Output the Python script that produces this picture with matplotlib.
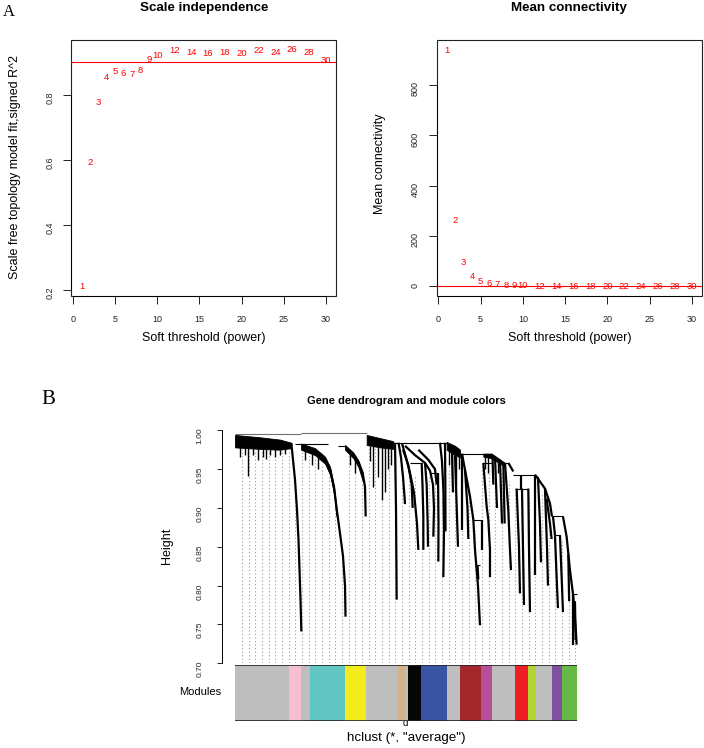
import numpy as np
import matplotlib
matplotlib.use("Agg")
import matplotlib.pyplot as plt
from matplotlib.patches import Rectangle

plt.rcParams['font.family'] = ['Liberation Sans', 'DejaVu Sans']

# --- soft threshold scan ---
powers = [1, 2, 3, 4, 5, 6, 7, 8, 9, 10, 12, 14, 16, 18, 20, 22, 24, 26, 28, 30]
sft_r2 = [0.21, 0.592, 0.776, 0.854, 0.873, 0.866, 0.863, 0.876, 0.909, 0.922,
          0.936, 0.930, 0.927, 0.930, 0.927, 0.938, 0.930, 0.941, 0.930, 0.906]
mean_k = [936, 261, 94, 38, 18, 10, 6, 3, 2.2, 1.6,
          0.9, 0.6, 0.4, 0.3, 0.2, 0.15, 0.11, 0.08, 0.06, 0.05]
r2_cut = 0.90

# --- modules in dendrogram order (gene counts) ---
module_names = ['grey', 'pink', 'grey', 'turquoise', 'yellow', 'grey', 'tan', 'grey',
                'black', 'blue', 'grey', 'brown', 'magenta', 'grey', 'red',
                'greenyellow', 'grey', 'purple', 'green']
module_sizes = [324, 72, 54, 210, 124, 192, 44, 20, 76, 156, 78, 126, 68, 136, 80,
                44, 96, 60, 90]
module_hex = {'grey': '#bebebe', 'pink': '#f6bfcf', 'turquoise': '#62c7c3',
              'yellow': '#f3eb1b', 'tan': '#d3b38c', 'black': '#050707',
              'blue': '#3a54a4', 'brown': '#a3282b', 'magenta': '#b7509b',
              'red': '#ed1f24', 'greenyellow': '#b4d433', 'purple': '#7f509f',
              'green': '#67b946'}

# --- dendrogram pieces (x = gene order, y = height) ---
# dense bands: x, upper edge, lower edge
band_x = [[0, 150, 270, 338], [396, 480, 540, 570, 594, 608], [790, 870, 948],
          [1270, 1320, 1350], [1490, 1540, 1620], [660, 710, 740, 766]]
band_top = [[.994, .991, .988, .984], [.983, .977, .966, .953, .927, .902],
            [.994, .990, .986], [.985, .980, .975], [.970, .970, .958],
            [.980, .970, .960, .945]]
band_bot = [[.978, .976, .975, .977], [.975, .968, .957, .943, .918, .890],
            [.981, .978, .976], [.975, .968, .965], [.966, .964, .953],
            [.975, .964, .953, .935]]

# branches running down to the modules
branch_x = [[338, 348, 360, 372, 381, 387, 393, 398],
            [570, 594, 608, 627, 648, 660, 663],
            [660, 710, 740, 766, 780, 784],
            [960, 966, 970],
            [981, 996, 1008, 1017, 1020],
            [1002, 1026, 1050, 1074, 1092, 1100],
            [1120, 1125, 1130, 1130],
            [1020, 1080, 1140, 1170, 1188, 1194, 1190],
            [1218, 1221, 1220],
            [1230, 1242, 1251, 1254, 1250],
            [1360, 1360],
            [1362, 1380, 1410, 1430, 1440, 1458, 1470],
            [1480, 1480],
            [1490, 1510, 1520, 1530, 1530],
            [1620, 1640, 1650, 1656],
            [1640, 1670],
            [1690, 1704, 1710],
            [1760, 1764, 1770],
            [1722, 1728, 1734],
            [1800, 1860, 1890, 1902],
            [1968, 1990, 2010, 2030, 2046, 2050],
            [1920, 1932, 1938],
            [1950, 1962, 1968],
            [1908, 1920],
            [1818, 1830, 1836],
            [1800, 1800],
            [1860, 1872, 1878],
            [1716, 1716],
            [1560, 1572],
            [1590, 1602],
            [1320, 1338],
            [1302, 1308],
            [1455, 1460],
            [2030, 2030],
            [1008, 1040, 1060, 1066],
            [1140, 1150, 1156, 1158],
            [1260, 1262, 1263],
            [1545, 1550],
            [1610, 1615, 1618],
            [2000, 2005],
            [2040, 2044],
            [1380, 1395, 1400],
            [1100, 1160, 1200, 1210],
            [1870, 1890, 1900]]
branch_h = [[.983, .962, .936, .897, .859, .820, .782, .741],
            [.950, .927, .902, .872, .838, .800, .760],
            [.980, .970, .960, .945, .927, .889],
            [.984, .900, .782],
            [.984, .965, .940, .915, .905],
            [.983, .965, .945, .920, .880, .846],
            [.958, .930, .890, .846],
            [.980, .968, .958, .948, .930, .900, .863],
            [.945, .880, .831],
            [.984, .960, .920, .870, .811],
            [.970, .872],
            [.970, .949, .915, .885, .846, .800, .749],
            [.885, .846],
            [.958, .902, .885, .846, .811],
            [.958, .897, .846, .820],
            [.958, .947],
            [.925, .850, .790],
            [.925, .850, .766],
            [.925, .850, .775],
            [.943, .925, .906, .889],
            [.889, .863, .820, .786, .740, .724],
            [.865, .800, .771],
            [.865, .800, .766],
            [.889, .865],
            [.940, .880, .830],
            [.943, .814],
            [.925, .850, .800],
            [.943, .925],
            [.966, .900],
            [.962, .880],
            [.968, .850],
            [.972, .920],
            [.826, .808],
            [.789, .724],
            [.975, .955, .930, .900],
            [.958, .930, .880, .850],
            [.984, .930, .870],
            [.968, .930],
            [.958, .910, .880],
            [.840, .780],
            [.780, .730],
            [.949, .900, .860],
            [.975, .962, .950, .930],
            [.912, .880, .860]]

# merge lines: height, left, right
link_h = [.995, .996, .982, .980, .984, .970, .958, .958, .943, .925, .889, .865,
          .885, .826, .958, .945, .789]
link_x0 = [0, 398, 360, 620, 950, 1350, 1490, 1600, 1670, 1680, 1902, 1920,
           1428, 1450, 1050, 1170, 2030]
link_x1 = [396, 790, 558, 668, 1270, 1540, 1540, 1640, 1800, 1760, 1968, 1950,
           1480, 1470, 1120, 1218, 2050]

# short hairs hanging from the bands: x, top, bottom
hair_x = [30, 78, 108, 138, 168, 210, 240, 270, 300,
          810, 830, 860, 880, 900, 918, 936,
          420, 462, 498, 690, 720,
          1284, 1302, 1326, 1344, 60, 186, 1500, 1520, 1580]
hair_top = [.978, .978, .977, .977, .976, .976, .976, .975, .976,
            .980, .980, .978, .978, .977, .977, .976,
            .974, .970, .964, .973, .966,
            .974, .971, .967, .966, .978, .976, .966, .965, .962]
hair_bot = [.965, .941, .968, .962, .966, .968, .965, .968, .970,
            .960, .927, .940, .910, .921, .950, .955,
            .962, .955, .950, .955, .945,
            .955, .940, .930, .950, .968, .963, .950, .945, .945]

# leaf stems (drawn dotted), top height of each column
stem_top = [.976, .976, .975, .975, .975, .974, .974, .975, .920, .974,
            .970, .966, .957, .944, .900, .830, .968, .958, .940, .980,
            .978, .977, .976, .975, .950, .955, .940, .945, .940, .935,
            .930, .960, .960, .955, .920, .870, .955, .950, .950, .945,
            .935, .920, .915, .915, .935, .920, .900, .870, .860, .800, .760]

N = sum(module_sizes)
W, H = 704, 748
fig = plt.figure(figsize=(W / 100, H / 100), dpi=100)


def px_axes(l, t, r, b):
    return fig.add_axes([l / W, 1 - b / H, (r - l) / W, (b - t) / H])


def ftext(x, y, s, **kw):
    return fig.text(x / W, 1 - y / H, s, **kw)


def r_style(ax, xb, yb):
    for s in ['top', 'right']:
        ax.spines[s].set_visible(False)
    ax.spines['bottom'].set_bounds(*xb)
    ax.spines['left'].set_bounds(*yb)
    ax.add_patch(Rectangle((0, 0), 1, 1, transform=ax.transAxes, fill=False,
                           lw=0.8, ec='#222222', clip_on=False))
    ax.tick_params(direction='out', length=5.5, width=0.7, labelsize=6.5,
                   colors='#222222')
    ax.tick_params(axis='y', labelrotation=90, pad=6.5)
    ax.tick_params(axis='x', pad=8)
    for s in ['bottom', 'left']:
        ax.spines[s].set_linewidth(0.7)


# --- A: scale independence ---
ax1 = px_axes(71.3, 40, 336.1, 296)
ax1.set_xlim(-0.2, 31.2)
ax1.set_ylim(0.1815, 0.969)
for p, v in zip(powers, sft_r2):
    ax1.text(p, v, str(p), color='red', fontsize=6.8, ha='center', va='center')
ax1.axhline(r2_cut, color='red', lw=0.8)
ax1.set_xticks([0, 5, 10, 15, 20, 25, 30])
ax1.set_yticks([0.2, 0.4, 0.6, 0.8])
ax1.set_yticklabels(['0.2', '0.4', '0.6', '0.8'])
r_style(ax1, (0, 30), (0.2, 0.8))

# --- A: mean connectivity ---
ax2 = px_axes(436.6, 40, 702.1, 296)
ax2.set_xlim(-0.2, 31.2)
ax2.set_ylim(-38.5, 978.6)
for p, v in zip(powers, mean_k):
    ax2.text(p, v, str(p), color='red', fontsize=6.8, ha='center', va='center')
ax2.axhline(0, color='red', lw=0.8)
ax2.set_xticks([0, 5, 10, 15, 20, 25, 30])
ax2.set_yticks([0, 200, 400, 600, 800])
r_style(ax2, (0, 30), (0, 800))

ftext(203.7, 8.5, 'Scale independence', fontsize=9.6, fontweight='bold',
      ha='center', va='center')
ftext(569.4, 8.5, 'Mean connectivity', fontsize=9.6, fontweight='bold',
      ha='center', va='center')
ftext(203.7, 338, 'Soft threshold (power)', fontsize=9, ha='center', va='center')
ftext(569.4, 338, 'Soft threshold (power)', fontsize=9, ha='center', va='center')
ftext(15, 167, 'Scale free topology model fit,signed R^2', fontsize=9,
      rotation=90, ha='center', va='center')
ftext(380.3, 164, 'Mean connectivity', fontsize=9, rotation=90,
      ha='center', va='center')
ftext(9, 12.5, 'A', family='Liberation Serif', fontsize=12, ha='center', va='center')
ftext(48, 400, 'B', family='Liberation Serif', fontsize=15, ha='center', va='center')

# --- B: dendrogram ---
ax3 = px_axes(221.7, 426.4, 590.3, 663.3)
ax3.set_xlim(-80, 2132)
ax3.set_ylim(0.70, 1.005)
stem_x = np.arange(42, N, 40)[:len(stem_top)]
ax3.vlines(stem_x, 0.70, stem_top, colors='#9a9a9a', lw=0.8,
           linestyles=(0, (1.0, 2.2)), zorder=1)
for xs, tp, bt in zip(band_x, band_top, band_bot):
    ax3.fill_between(xs, bt, tp, color='black', lw=0.6, zorder=3)
for xs, hs in zip(branch_x, branch_h):
    ax3.plot(xs, hs, color='black', lw=1.6, solid_capstyle='butt', zorder=3)
ax3.hlines(link_h[:2], link_x0[:2], link_x1[:2], colors='#707070', lw=0.8, zorder=2)
ax3.hlines(link_h[2:], link_x0[2:], link_x1[2:], colors='black', lw=0.8, zorder=2)
ax3.vlines(hair_x, hair_bot, hair_top, colors='black', lw=1.0, zorder=3)
for s in ['top', 'right', 'bottom']:
    ax3.spines[s].set_visible(False)
ax3.spines['left'].set_bounds(0.70, 1.00)
ax3.spines['left'].set_linewidth(0.7)
ax3.set_xticks([])
ax3.set_yticks([0.70, 0.75, 0.80, 0.85, 0.90, 0.95, 1.00])
ax3.set_yticklabels(['0.70', '0.75', '0.80', '0.85', '0.90', '0.95', '1.00'])
ax3.tick_params(axis='y', direction='out', length=3.6, width=0.7, labelsize=6,
                labelrotation=90, pad=9.5, colors='#222222')

# --- B: module colour bar ---
ax4 = px_axes(221.7, 665.3, 590.3, 721)
ax4.set_xlim(-80, 2132)
ax4.set_ylim(0, 1)
starts = np.concatenate([[0], np.cumsum(module_sizes)[:-1]])
ax4.bar(starts, 1, width=module_sizes, align='edge',
        color=[module_hex[m] for m in module_names], lw=0)
ax4.hlines([0, 1], 0, N, colors='#222222', lw=1.2)
ax4.axis('off')

ftext(406, 401, 'Gene dendrogram and module colors', fontsize=8,
      fontweight='bold', ha='center', va='center')
ftext(166.7, 546, 'Height', fontsize=9, rotation=90, ha='center', va='center')
ftext(221.7, 691.7, 'Modules', fontsize=8, ha='right', va='center')
ftext(405, 722.5, 'd', fontsize=7, ha='center', va='center', zorder=-1)
ftext(406, 738.5, 'hclust (*, "average")', fontsize=9.6, ha='center', va='center')

fig.savefig('out.png', dpi=100)
